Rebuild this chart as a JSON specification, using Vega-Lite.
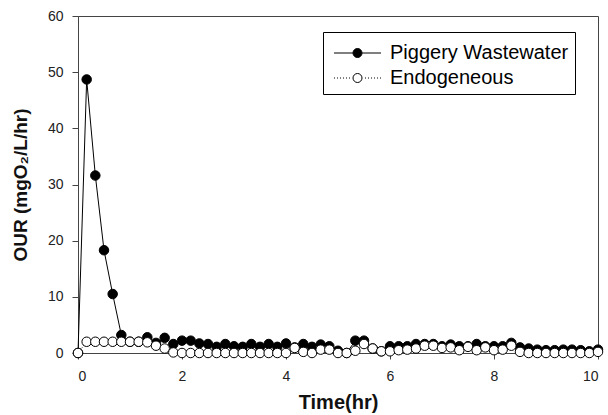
{
  "$schema": "https://vega.github.io/schema/vega-lite/v6.json",
  "width": 520,
  "height": 337,
  "autosize": {"type": "none"},
  "padding": {"left": 78, "top": 16, "right": 10, "bottom": 62},
  "background": "white",
  "config": {
    "view": {"stroke": "#444", "strokeWidth": 1},
    "font": "Liberation Sans",
    "axis": {
      "grid": false,
      "domainColor": "#444",
      "tickColor": "#444",
      "tickSize": 6,
      "labelFont": "Liberation Sans",
      "labelFontSize": 14,
      "labelColor": "#222",
      "titleFont": "Liberation Sans",
      "titleFontWeight": "bold",
      "titleColor": "#111"
    }
  },
  "data": {
    "values": [
      {"t": 0, "series": "Piggery Wastewater", "v": 0},
      {"t": 0.1667, "series": "Piggery Wastewater", "v": 48.7},
      {"t": 0.3333, "series": "Piggery Wastewater", "v": 31.6},
      {"t": 0.5, "series": "Piggery Wastewater", "v": 18.3},
      {"t": 0.6667, "series": "Piggery Wastewater", "v": 10.5},
      {"t": 0.8333, "series": "Piggery Wastewater", "v": 3.2},
      {"t": 1.0, "series": "Piggery Wastewater", "v": 2.0},
      {"t": 1.1667, "series": "Piggery Wastewater", "v": 2.0},
      {"t": 1.3333, "series": "Piggery Wastewater", "v": 2.8},
      {"t": 1.5, "series": "Piggery Wastewater", "v": 1.8},
      {"t": 1.6667, "series": "Piggery Wastewater", "v": 2.7},
      {"t": 1.8333, "series": "Piggery Wastewater", "v": 1.6},
      {"t": 2.0, "series": "Piggery Wastewater", "v": 2.2},
      {"t": 2.1667, "series": "Piggery Wastewater", "v": 2.2},
      {"t": 2.3333, "series": "Piggery Wastewater", "v": 1.7},
      {"t": 2.5, "series": "Piggery Wastewater", "v": 1.6},
      {"t": 2.6667, "series": "Piggery Wastewater", "v": 1.1},
      {"t": 2.8333, "series": "Piggery Wastewater", "v": 1.6},
      {"t": 3.0, "series": "Piggery Wastewater", "v": 1.2},
      {"t": 3.1667, "series": "Piggery Wastewater", "v": 1.1},
      {"t": 3.3333, "series": "Piggery Wastewater", "v": 1.6},
      {"t": 3.5, "series": "Piggery Wastewater", "v": 1.1},
      {"t": 3.6667, "series": "Piggery Wastewater", "v": 1.6},
      {"t": 3.8333, "series": "Piggery Wastewater", "v": 1.1},
      {"t": 4.0, "series": "Piggery Wastewater", "v": 1.7},
      {"t": 4.1667, "series": "Piggery Wastewater", "v": 1.0},
      {"t": 4.3333, "series": "Piggery Wastewater", "v": 1.6},
      {"t": 4.5, "series": "Piggery Wastewater", "v": 1.1},
      {"t": 4.6667, "series": "Piggery Wastewater", "v": 1.5},
      {"t": 4.8333, "series": "Piggery Wastewater", "v": 1.2},
      {"t": 5.0, "series": "Piggery Wastewater", "v": 0.4},
      {"t": 5.1667, "series": "Piggery Wastewater", "v": 0.0},
      {"t": 5.3333, "series": "Piggery Wastewater", "v": 2.2},
      {"t": 5.5, "series": "Piggery Wastewater", "v": 2.2},
      {"t": 5.6667, "series": "Piggery Wastewater", "v": 0.8},
      {"t": 5.8333, "series": "Piggery Wastewater", "v": 0.3},
      {"t": 6.0, "series": "Piggery Wastewater", "v": 1.2},
      {"t": 6.1667, "series": "Piggery Wastewater", "v": 1.2},
      {"t": 6.3333, "series": "Piggery Wastewater", "v": 1.2},
      {"t": 6.5, "series": "Piggery Wastewater", "v": 1.6},
      {"t": 6.6667, "series": "Piggery Wastewater", "v": 1.6},
      {"t": 6.8333, "series": "Piggery Wastewater", "v": 1.6},
      {"t": 7.0, "series": "Piggery Wastewater", "v": 1.2},
      {"t": 7.1667, "series": "Piggery Wastewater", "v": 1.5},
      {"t": 7.3333, "series": "Piggery Wastewater", "v": 1.2},
      {"t": 7.5, "series": "Piggery Wastewater", "v": 1.2},
      {"t": 7.6667, "series": "Piggery Wastewater", "v": 1.6},
      {"t": 7.8333, "series": "Piggery Wastewater", "v": 1.2},
      {"t": 8.0, "series": "Piggery Wastewater", "v": 1.2},
      {"t": 8.1667, "series": "Piggery Wastewater", "v": 1.2},
      {"t": 8.3333, "series": "Piggery Wastewater", "v": 1.8},
      {"t": 8.5, "series": "Piggery Wastewater", "v": 1.0},
      {"t": 8.6667, "series": "Piggery Wastewater", "v": 0.8},
      {"t": 8.8333, "series": "Piggery Wastewater", "v": 0.6},
      {"t": 9.0, "series": "Piggery Wastewater", "v": 0.5},
      {"t": 9.1667, "series": "Piggery Wastewater", "v": 0.5},
      {"t": 9.3333, "series": "Piggery Wastewater", "v": 0.6},
      {"t": 9.5, "series": "Piggery Wastewater", "v": 0.6},
      {"t": 9.6667, "series": "Piggery Wastewater", "v": 0.5},
      {"t": 9.8333, "series": "Piggery Wastewater", "v": 0.3},
      {"t": 10.0, "series": "Piggery Wastewater", "v": 0.6},
      {"t": 0, "series": "Endogeneous", "v": 0},
      {"t": 0.1667, "series": "Endogeneous", "v": 2.0},
      {"t": 0.3333, "series": "Endogeneous", "v": 2.0},
      {"t": 0.5, "series": "Endogeneous", "v": 2.0},
      {"t": 0.6667, "series": "Endogeneous", "v": 2.0},
      {"t": 0.8333, "series": "Endogeneous", "v": 2.0},
      {"t": 1.0, "series": "Endogeneous", "v": 2.0},
      {"t": 1.1667, "series": "Endogeneous", "v": 2.0},
      {"t": 1.3333, "series": "Endogeneous", "v": 1.9},
      {"t": 1.5, "series": "Endogeneous", "v": 1.3},
      {"t": 1.6667, "series": "Endogeneous", "v": 0.8},
      {"t": 1.8333, "series": "Endogeneous", "v": 0.1},
      {"t": 2.0, "series": "Endogeneous", "v": 0},
      {"t": 2.1667, "series": "Endogeneous", "v": 0},
      {"t": 2.3333, "series": "Endogeneous", "v": 0},
      {"t": 2.5, "series": "Endogeneous", "v": 0},
      {"t": 2.6667, "series": "Endogeneous", "v": 0},
      {"t": 2.8333, "series": "Endogeneous", "v": 0},
      {"t": 3.0, "series": "Endogeneous", "v": 0},
      {"t": 3.1667, "series": "Endogeneous", "v": 0},
      {"t": 3.3333, "series": "Endogeneous", "v": 0},
      {"t": 3.5, "series": "Endogeneous", "v": 0},
      {"t": 3.6667, "series": "Endogeneous", "v": 0},
      {"t": 3.8333, "series": "Endogeneous", "v": 0},
      {"t": 4.0, "series": "Endogeneous", "v": 0},
      {"t": 4.1667, "series": "Endogeneous", "v": 0.9},
      {"t": 4.3333, "series": "Endogeneous", "v": 0.2},
      {"t": 4.5, "series": "Endogeneous", "v": 0},
      {"t": 4.6667, "series": "Endogeneous", "v": 0.6},
      {"t": 4.8333, "series": "Endogeneous", "v": 0.6},
      {"t": 5.0, "series": "Endogeneous", "v": 0},
      {"t": 5.1667, "series": "Endogeneous", "v": 0},
      {"t": 5.3333, "series": "Endogeneous", "v": 0.4},
      {"t": 5.5, "series": "Endogeneous", "v": 1.6},
      {"t": 5.6667, "series": "Endogeneous", "v": 0.8},
      {"t": 5.8333, "series": "Endogeneous", "v": 0.3},
      {"t": 6.0, "series": "Endogeneous", "v": 0.3},
      {"t": 6.1667, "series": "Endogeneous", "v": 0.5},
      {"t": 6.3333, "series": "Endogeneous", "v": 0.6},
      {"t": 6.5, "series": "Endogeneous", "v": 0.8},
      {"t": 6.6667, "series": "Endogeneous", "v": 1.3},
      {"t": 6.8333, "series": "Endogeneous", "v": 1.3},
      {"t": 7.0, "series": "Endogeneous", "v": 0.9},
      {"t": 7.1667, "series": "Endogeneous", "v": 1.0},
      {"t": 7.3333, "series": "Endogeneous", "v": 0.5},
      {"t": 7.5, "series": "Endogeneous", "v": 1.1},
      {"t": 7.6667, "series": "Endogeneous", "v": 0.5},
      {"t": 7.8333, "series": "Endogeneous", "v": 1.0},
      {"t": 8.0, "series": "Endogeneous", "v": 0.5},
      {"t": 8.1667, "series": "Endogeneous", "v": 0.6},
      {"t": 8.3333, "series": "Endogeneous", "v": 1.3},
      {"t": 8.5, "series": "Endogeneous", "v": 0.2},
      {"t": 8.6667, "series": "Endogeneous", "v": 0},
      {"t": 8.8333, "series": "Endogeneous", "v": 0},
      {"t": 9.0, "series": "Endogeneous", "v": 0},
      {"t": 9.1667, "series": "Endogeneous", "v": 0},
      {"t": 9.3333, "series": "Endogeneous", "v": 0},
      {"t": 9.5, "series": "Endogeneous", "v": 0},
      {"t": 9.6667, "series": "Endogeneous", "v": 0},
      {"t": 9.8333, "series": "Endogeneous", "v": 0},
      {"t": 10.0, "series": "Endogeneous", "v": 0.2}
    ]
  },
  "encoding": {
    "x": {
      "field": "t",
      "type": "quantitative",
      "scale": {"domain": [0, 10], "nice": false},
      "axis": {"title": "Time(hr)", "values": [0, 2, 4, 6, 8, 10], "labelPadding": 10, "titlePadding": 9, "titleFontSize": 20}
    },
    "y": {
      "field": "v",
      "type": "quantitative",
      "scale": {"domain": [0, 60], "nice": false},
      "axis": {"title": "OUR (mgO₂/L/hr)", "values": [0, 10, 20, 30, 40, 50, 60], "labelPadding": 9, "titlePadding": 17, "titleFontSize": 19}
    }
  },
  "layer": [
    {
      "transform": [{"filter": "datum.series === 'Piggery Wastewater'"}],
      "mark": {"type": "line", "color": "black", "strokeWidth": 1}
    },
    {
      "transform": [{"filter": "datum.series === 'Piggery Wastewater'"}],
      "mark": {"type": "point", "shape": "circle", "filled": true, "fill": "black", "stroke": "black", "strokeWidth": 1, "size": 90, "opacity": 1}
    },
    {
      "transform": [{"filter": "datum.series === 'Endogeneous'"}],
      "mark": {"type": "line", "color": "black", "strokeWidth": 1, "strokeDash": [1, 2]}
    },
    {
      "transform": [{"filter": "datum.series === 'Endogeneous'"}],
      "mark": {"type": "point", "shape": "circle", "filled": true, "fill": "white", "stroke": "black", "strokeWidth": 1, "size": 90, "opacity": 1}
    },
    {
      "mark": {"type": "point", "shape": "circle", "size": 0, "opacity": 0},
      "encoding": {
        "fill": {
          "field": "series",
          "type": "nominal",
          "scale": {"domain": ["Piggery Wastewater", "Endogeneous"], "range": ["black", "white"]},
          "legend": {
            "title": null,
            "orient": "none",
            "legendX": 245,
            "legendY": 16,
            "strokeColor": "black",
            "fillColor": "white",
            "padding": 6,
            "symbolSize": 400,
            "symbolOffset": 18,
            "symbolStrokeColor": "black",
            "symbolStrokeWidth": 1,
            "symbolOpacity": 1,
            "labelFont": "Liberation Sans",
            "labelFontSize": 20,
            "labelLimit": 400,
            "labelColor": "black",
            "labelOffset": 22,
            "clipHeight": 22,
            "rowPadding": 0,
            "encode": {
              "labels": {"update": {"dy": {"value": 4}}},
              "symbols": {
                "update": {
                  "shape": {"signal": "datum.value === 'Piggery Wastewater' ? 'M-2.35,0.4H-0.45M0.45,0.4H2.35M-0.45,0.4A0.45,0.45 0 1,0 0.45,0.4A0.45,0.45 0 1,0 -0.45,0.4Z' : 'M-2.35,0.4h0.1M-2.05,0.4h0.1M-1.75,0.4h0.1M-1.45,0.4h0.1M-1.15,0.4h0.1M-0.85,0.4h0.1M0.75,0.4h0.1M1.05,0.4h0.1M1.35,0.4h0.1M1.65,0.4h0.1M1.95,0.4h0.1M2.25,0.4h0.1M-0.45,0.4A0.45,0.45 0 1,0 0.45,0.4A0.45,0.45 0 1,0 -0.45,0.4Z'"},
                  "opacity": {"value": 1},
                  "stroke": {"value": "black"}
                }
              }
            }
          }
        }
      }
    }
  ]
}
